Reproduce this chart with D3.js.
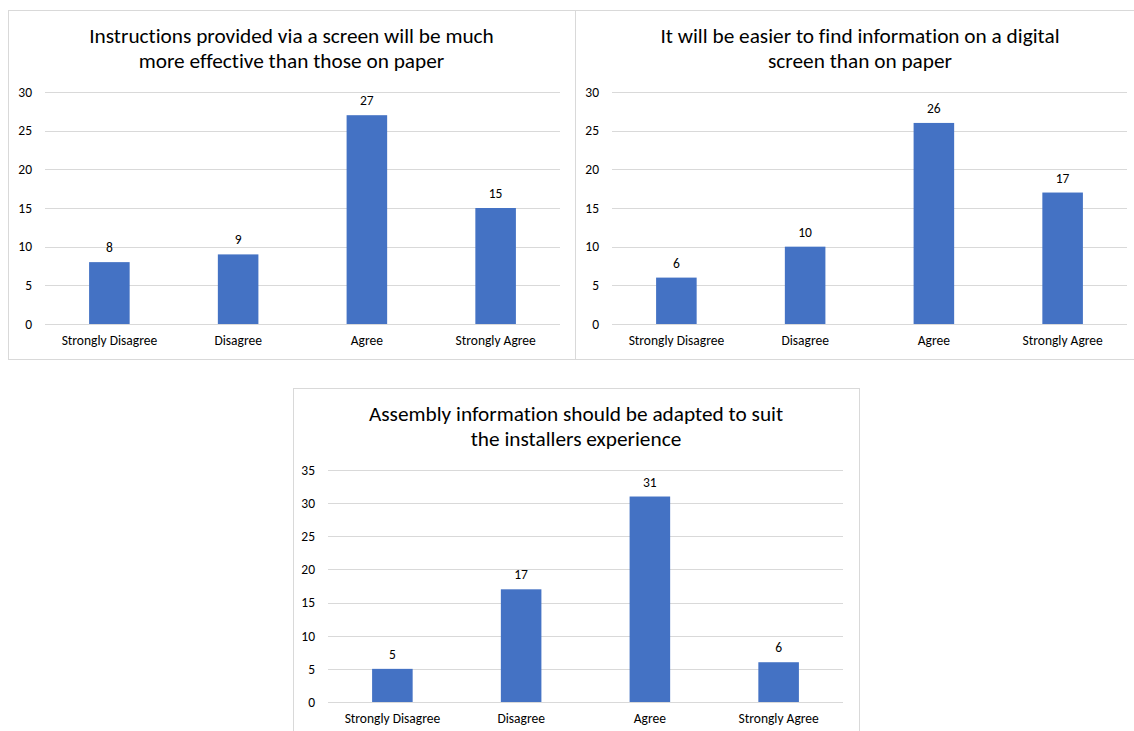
<!DOCTYPE html>
<html>
<head>
<meta charset="utf-8">
<script src="https://cdn.jsdelivr.net/npm/d3@7"></script>
<style>
  html, body { margin: 0; padding: 0; background: #fff; }
  svg { display: block; }
  text { font-family: Carlito, "Open Sans", "Liberation Sans", sans-serif; fill: #000; font-variant-ligatures: none; }
</style>
</head>
<body>
<svg id="chart" width="1134" height="731"></svg>
<script>
// Survey responses (counts) per statement
const categories = ["Strongly Disagree", "Disagree", "Agree", "Strongly Agree"];

const screenEffectiveTitle = ["Instructions provided via a screen will be much", "more effective than those on paper"];
const screenEffectiveValues = [8, 9, 27, 15];

const easierToFindTitle = ["It will be easier to find information on a digital", "screen than on paper"];
const easierToFindValues = [6, 10, 26, 17];

const adaptedInfoTitle = ["Assembly information should be adapted to suit", "the installers experience"];
const adaptedInfoValues = [5, 17, 31, 6];

const ticksTo30 = [0, 5, 10, 15, 20, 25, 30];
const ticksTo35 = [0, 5, 10, 15, 20, 25, 30, 35];

const BAR_COLOR = "#4472C4";
const GRID_COLOR = "#D9D9D9";
const BORDER_COLOR = "#D9D9D9";
const FONT = "Carlito, 'Open Sans', 'Liberation Sans', sans-serif";
const TITLE_SIZE = 21.3;
const LABEL_SIZE = 13.5;

const svg = d3.select("#chart");
svg.append("rect").attr("width", 1134).attr("height", 731).attr("fill", "#fff");

// Panel frames and plot areas
const panels = [
  { frame: { x: 8, y: 10, w: 567, h: 349 }, plot: { x0: 45, x1: 560, y0: 324, y1: 92 },
    title: screenEffectiveTitle, values: screenEffectiveValues, ticks: ticksTo30 },
  { frame: { x: 575, y: 10, w: 570, h: 349 }, plot: { x0: 612, x1: 1127, y0: 324, y1: 92 },
    title: easierToFindTitle, values: easierToFindValues, ticks: ticksTo30 },
  { frame: { x: 293, y: 388, w: 566, h: 360 }, plot: { x0: 328, x1: 843, y0: 702, y1: 470 },
    title: adaptedInfoTitle, values: adaptedInfoValues, ticks: ticksTo35 }
];

panels.forEach(p => {
  const g = svg.append("g");
  const f = p.frame;

  g.append("rect")
    .attr("x", f.x + 0.5).attr("y", f.y + 0.5)
    .attr("width", f.w).attr("height", f.h)
    .attr("fill", "#fff").attr("stroke", BORDER_COLOR).attr("stroke-width", 1);

  const yMax = d3.max(p.ticks);
  const y = d3.scaleLinear().domain([0, yMax]).range([p.plot.y0, p.plot.y1]);
  const pad = 0.685;
  const x = d3.scaleBand().domain(categories)
    .range([p.plot.x0, p.plot.x1])
    .paddingInner(pad).paddingOuter(pad / 2);

  // Title (two centred lines)
  const cx = f.x + f.w / 2;
  p.title.forEach((line, i) => {
    g.append("text")
      .attr("x", cx).attr("y", f.y + 32.7 + i * 25)
      .attr("text-anchor", "middle")
      .attr("font-size", TITLE_SIZE)
      .text(line);
  });

  // Horizontal gridlines
  g.append("g").selectAll("line").data(p.ticks).join("line")
    .attr("x1", p.plot.x0).attr("x2", p.plot.x1)
    .attr("y1", d => Math.round(y(d)) + 0.5).attr("y2", d => Math.round(y(d)) + 0.5)
    .attr("stroke", GRID_COLOR).attr("stroke-width", 1);

  // Y axis labels
  const yAxis = d3.axisLeft(y).tickValues(p.ticks).tickSize(0).tickPadding(13);
  const ya = g.append("g").attr("transform", `translate(${p.plot.x0},0)`).call(yAxis);
  ya.select(".domain").remove();
  ya.selectAll("text").attr("font-size", LABEL_SIZE).attr("fill", "#000").style("font-family", FONT);

  // Bars
  g.append("g").selectAll("rect").data(p.values).join("rect")
    .attr("x", (d, i) => x(categories[i]))
    .attr("y", d => y(d))
    .attr("width", x.bandwidth())
    .attr("height", d => y(0) - y(d))
    .attr("fill", BAR_COLOR);

  // Value labels
  g.append("g").selectAll("text").data(p.values).join("text")
    .attr("x", (d, i) => x(categories[i]) + x.bandwidth() / 2)
    .attr("y", d => y(d) - 10)
    .attr("text-anchor", "middle")
    .attr("font-size", LABEL_SIZE)
    .text(d => d);

  // Category axis labels
  const xAxis = d3.axisBottom(x).tickSize(0).tickPadding(11);
  const xa = g.append("g").attr("transform", `translate(0,${p.plot.y0})`).call(xAxis);
  xa.select(".domain").remove();
  xa.selectAll("text").attr("font-size", LABEL_SIZE).attr("fill", "#000").style("font-family", FONT);
});
</script>
</body>
</html>
